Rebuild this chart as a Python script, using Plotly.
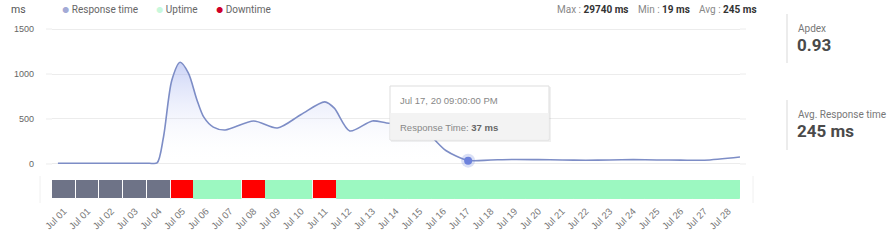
import plotly.graph_objects as go

W, H = 895, 245

# ---------------- data ----------------
day_labels = ["Jul 01", "Jul 01", "Jul 02", "Jul 03", "Jul 04", "Jul 05", "Jul 06", "Jul 07",
              "Jul 08", "Jul 09", "Jul 10", "Jul 11", "Jul 12", "Jul 13", "Jul 14", "Jul 15",
              "Jul 16", "Jul 17", "Jul 18", "Jul 19", "Jul 20", "Jul 21", "Jul 22", "Jul 23",
              "Jul 24", "Jul 25", "Jul 26", "Jul 27", "Jul 28"]
day_status = ["none"] * 5 + ["down", "up", "up", "down", "up", "up", "down"] + ["up"] * 17

resp_pos = [-0.25, 1, 2, 3, 3.6, 3.93, 4.2, 4.55, 4.9, 5.25, 5.6, 5.9, 6.3, 6.8, 8.0, 9.0,
            10.0, 11.0, 11.4, 12.05, 13.0, 13.6, 14.3, 15.0, 15.5, 16.1, 17.04, 18, 19, 20,
            21, 22, 23, 24, 25, 26, 27, 28.5]
resp_ms = [8, 8, 8, 8, 8, 12, 300, 930, 1130, 1010, 720, 520, 410, 378, 478, 400,
           550, 690, 620, 367, 478, 456, 440, 390, 300, 150, 40, 45, 50, 48,
           45, 42, 45, 48, 45, 43, 42, 78]

hover_pos = [17.04]
hover_ms = [37]

stats = {"Max": "29740 ms", "Min": "19 ms", "Avg": "245 ms"}
apdex = "0.93"
avg_resp = "245 ms"

status_colors = {"none": "#6e7387", "down": "#ff0000", "up": "#9cf8c1"}
status_lines = {"none": "#ffffff", "down": "#f4f4f4", "up": "#9cf8c1"}


def px(x):
    return x / W


def py(y):
    return 1 - y / H


fig = go.Figure()

# response time line
fig.add_trace(go.Scatter(
    x=resp_pos, y=resp_ms, mode="lines",
    line=dict(color="#7d8dc6", width=1.6, shape="spline", smoothing=0.8),
    fill="tozeroy",
    fillgradient=dict(type="vertical",
                      colorscale=[[0, "rgba(255,255,255,0)"], [1, "rgba(140,158,236,0.45)"]]),
    xaxis="x", yaxis="y", hoverinfo="skip", showlegend=False))

# hover marker (halo + dot)
fig.add_trace(go.Scatter(
    x=hover_pos, y=hover_ms, mode="markers",
    marker=dict(size=14, color="rgba(109,130,220,0.25)"),
    xaxis="x", yaxis="y", hoverinfo="skip", showlegend=False))
fig.add_trace(go.Scatter(
    x=hover_pos, y=hover_ms, mode="markers",
    marker=dict(size=8, color="#6d82dc"),
    xaxis="x", yaxis="y", hoverinfo="skip", showlegend=False))

# status bar
fig.add_trace(go.Bar(
    x=list(range(len(day_labels))), y=[1] * len(day_labels), width=1,
    marker=dict(color=[status_colors[s] for s in day_status],
                line=dict(color=[status_lines[s] for s in day_status], width=1)),
    xaxis="x2", yaxis="y2", hoverinfo="skip", showlegend=False))

xdom = [px(52), px(740)]
fig.update_layout(
    width=W, height=H, margin=dict(l=0, r=0, t=0, b=0, autoexpand=False),
    paper_bgcolor="white", plot_bgcolor="white",
    font=dict(family="Liberation Sans, Arial, sans-serif", color="#666"),
    bargap=0,
    xaxis=dict(domain=xdom, range=[-0.5, 28.5], showticklabels=False, showgrid=False,
               zeroline=False, anchor="y", fixedrange=True, automargin=False),
    yaxis=dict(domain=[py(172), py(20)], range=[-89, 1600], tickvals=[0, 500, 1000, 1500],
               ticktext=["0", "500", "1000", "1500"], showgrid=True, gridcolor="#ececec",
               gridwidth=1, zeroline=False, tickfont=dict(size=9, color="#666"),
               ticks="", ticklabelstandoff=17, anchor="x", automargin=False),
    xaxis2=dict(domain=xdom, range=[-0.5, 28.5], tickvals=list(range(len(day_labels))),
                ticktext=day_labels, tickangle=-45, tickfont=dict(size=9.5, color="#777"),
                showgrid=False, zeroline=False, ticks="", anchor="y2", ticklabelstandoff=4,
                automargin=False),
    yaxis2=dict(domain=[py(199), py(180)], range=[0, 1], showticklabels=False,
                showgrid=False, zeroline=False, anchor="x2", automargin=False),
)

shapes = []
ann = []

# extend gridlines slightly beyond plot like reference
for v in [0, 500, 1000, 1500]:
    for xa, xb in [(46, 52), (740, 746)]:
        shapes.append(dict(type="line", xref="paper", yref="y", x0=px(xa), x1=px(xb),
                           y0=v, y1=v, line=dict(color="#ececec", width=1)))

# faint borders around status area and right panel separators
shapes.append(dict(type="line", xref="paper", yref="paper", x0=px(40), x1=px(40),
                   y0=py(176), y1=py(203), line=dict(color="#f0f0f0", width=1)))
shapes.append(dict(type="line", xref="paper", yref="paper", x0=px(753), x1=px(753),
                   y0=py(176), y1=py(203), line=dict(color="#f0f0f0", width=1)))
shapes.append(dict(type="line", xref="paper", yref="paper", x0=px(787), x1=px(787),
                   y0=py(14), y1=py(63), line=dict(color="#e6e6e6", width=1.5)))
shapes.append(dict(type="line", xref="paper", yref="paper", x0=px(787), x1=px(787),
                   y0=py(100), y1=py(150), line=dict(color="#e6e6e6", width=1.5)))

# tooltip
tx0, tx1, ty0, tym, ty1 = 390, 549, 86, 113, 140
shapes.append(dict(type="rect", xref="paper", yref="paper", x0=px(tx0 + 1), x1=px(tx1 + 2),
                   y0=py(ty1 + 2), y1=py(ty0 + 1), line=dict(width=0),
                   fillcolor="rgba(0,0,0,0.06)"))
shapes.append(dict(type="rect", xref="paper", yref="paper", x0=px(tx0), x1=px(tx1),
                   y0=py(ty1), y1=py(ty0), line=dict(color="#dddddd", width=1),
                   fillcolor="white"))
shapes.append(dict(type="rect", xref="paper", yref="paper", x0=px(tx0 + 0.5), x1=px(tx1 - 0.5),
                   y0=py(ty1 - 0.5), y1=py(tym), line=dict(width=0), fillcolor="#f3f3f3"))
ann.append(dict(x=px(398), y=py(100), xref="paper", yref="paper", xanchor="left",
                yanchor="middle", showarrow=False, text="Jul 17, 20 09:00:00 PM",
                font=dict(size=9.5, color="#888", family="Liberation Sans, Arial")))
ann.append(dict(x=px(398), y=py(127), xref="paper", yref="paper", xanchor="left",
                yanchor="middle", showarrow=False,
                text="Response Time: <b style='color:#666'>%d ms</b>" % hover_ms[0],
                font=dict(size=9.5, color="#888", family="Liberation Sans, Arial")))

# header
hdr_font = dict(size=10, color="#666", family="Roboto, Inter, sans-serif")
ann.append(dict(x=px(9), y=py(9), xref="paper", yref="paper", xanchor="left", yanchor="middle",
                showarrow=False, text="ms", font=dict(size=10.5, color="#555",
                                                       family="Roboto, sans-serif")))
legend_items = [("Response time", "#a3aad6", 60), ("Uptime", "#c8f8dc", 154),
                ("Downtime", "#d0002a", 214)]
for name, col, x in legend_items:
    ann.append(dict(x=px(x), y=py(9), xref="paper", yref="paper", xanchor="left",
                    yanchor="middle", showarrow=False,
                    text="<span style='color:%s;font-size:8px'>●</span> %s" % (col, name),
                    font=hdr_font))

stat_x = {"Max": 555, "Min": 636, "Avg": 697}
for k, v in stats.items():
    ann.append(dict(x=px(stat_x[k]), y=py(9), xref="paper", yref="paper", xanchor="left",
                    yanchor="middle", showarrow=False,
                    text="<span style='color:#888'>%s : </span><b style='color:#333'>%s</b>"
                         % (k, v),
                    font=dict(size=10, family="Roboto, sans-serif", color="#333")))

# right panel
ann.append(dict(x=px(796), y=py(28), xref="paper", yref="paper", xanchor="left",
                yanchor="middle", showarrow=False, text="Apdex",
                font=dict(size=10, color="#777", family="Roboto, sans-serif")))
ann.append(dict(x=px(795), y=py(45), xref="paper", yref="paper", xanchor="left",
                yanchor="middle", showarrow=False, text="<b>%s</b>" % apdex,
                font=dict(size=17, color="#4a4a4a", family="Roboto, sans-serif")))
ann.append(dict(x=px(796), y=py(114), xref="paper", yref="paper", xanchor="left",
                yanchor="middle", showarrow=False, text="Avg. Response time",
                font=dict(size=10, color="#777", family="Roboto, sans-serif")))
ann.append(dict(x=px(795), y=py(131), xref="paper", yref="paper", xanchor="left",
                yanchor="middle", showarrow=False, text="<b>%s</b>" % avg_resp,
                font=dict(size=17, color="#4a4a4a", family="Roboto, sans-serif")))

fig.update_layout(shapes=shapes, annotations=ann)
fig.write_html("out.html", config={"displayModeBar": False})
